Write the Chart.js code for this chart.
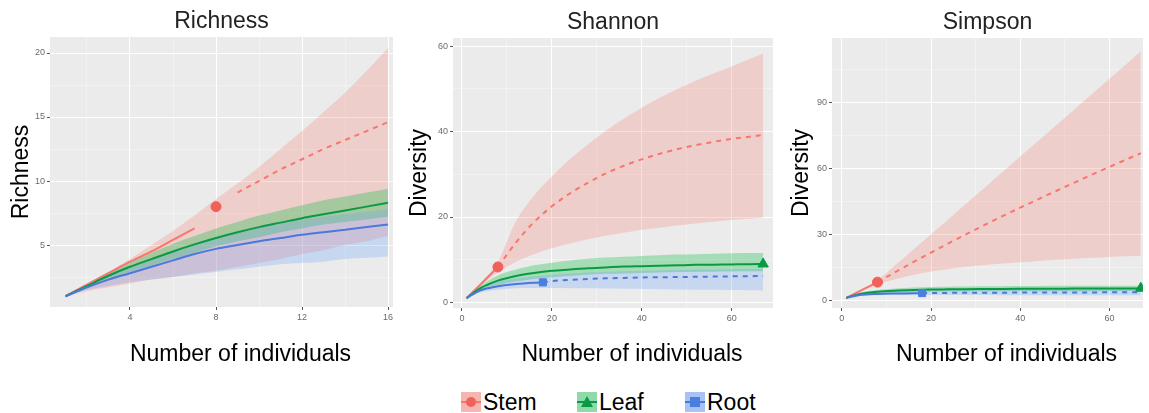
<!DOCTYPE html>
<html>
<head>
<meta charset="utf-8">
<script src="https://cdn.jsdelivr.net/npm/chart.js@4.4.0/dist/chart.umd.min.js"></script>
<style>
  html, body { margin: 0; padding: 0; background: #fff; width: 1149px; height: 413px; overflow: hidden; }
  body { position: relative; font-family: 'Liberation Sans', Arial, sans-serif; }
  canvas { position: absolute; top: 0; }
  #c1 { left: 0; }
  #c2 { left: 400px; }
  #c3 { left: 780px; }
  .leg { position: absolute; top: 391px; height: 22px; display: flex; align-items: center; font-size: 23px; line-height: 22px; color: #000; }
  .key { width: 20px; height: 20px; position: relative; margin-right: 2px; flex: none; }
  .key .ln { position: absolute; left: 0; right: 0; top: 9px; height: 2px; }
  .key .mk { position: absolute; }
</style>
</head>
<body>
<canvas id="c1" width="400" height="380"></canvas>
<canvas id="c2" width="380" height="380"></canvas>
<canvas id="c3" width="370" height="380"></canvas>

<div class="leg" style="left:461px">
  <span class="key" style="background:#F5B5B0"><span class="ln" style="background:#F8766D"></span><span class="mk" style="left:5px;top:5px;width:10px;height:10px;border-radius:50%;background:#F0615A"></span></span>Stem
</div>
<div class="leg" style="left:577px">
  <span class="key" style="background:#8FDAA8"><span class="ln" style="background:#0A9A45"></span><span class="mk" style="left:4px;top:4px;width:0;height:0;border-left:6px solid transparent;border-right:6px solid transparent;border-bottom:11px solid #0A9A45"></span></span>Leaf
</div>
<div class="leg" style="left:685px">
  <span class="key" style="background:#A8C3F3"><span class="ln" style="background:#4C78D8"></span><span class="mk" style="left:5px;top:5px;width:10px;height:10px;background:#4A7EE0"></span></span>Root
</div>

<script>
// ---- Richness panel (x = 1..16) ----
const richX = [1, 2, 3, 4, 5, 6, 7, 8, 9, 10, 11, 12, 13, 14, 15, 16];
const richStemRareX = [1, 2, 3, 4, 5, 6, 7];
const richStemRareY = [1, 1.9, 2.8, 3.7, 4.5, 5.4, 6.3];
const richStemExtX = [9, 10, 11, 12, 13, 14, 15, 16];
const richStemExtY = [9.1, 10.0, 10.9, 11.7, 12.5, 13.2, 13.9, 14.6];
const richStemObs = [8, 8];
const richStemHi = [1, 1.9, 2.9, 3.9, 5.0, 6.1, 7.3, 8.6, 9.8, 11.1, 12.5, 13.9, 15.4, 16.9, 18.6, 20.4];
const richStemLo = [1, 1.4, 1.7, 2.0, 2.3, 2.5, 2.8, 3.0, 3.3, 3.6, 3.9, 4.3, 4.6, 5.0, 5.3, 5.7];
const richLeafY = [1, 1.8, 2.6, 3.3, 3.9, 4.5, 5.05, 5.55, 6.0, 6.4, 6.75, 7.1, 7.4, 7.7, 8.0, 8.3];
const richLeafHi = [1, 2.0, 2.9, 3.7, 4.4, 5.1, 5.7, 6.3, 6.8, 7.3, 7.7, 8.1, 8.5, 8.8, 9.1, 9.4];
const richLeafLo = [1, 1.6, 2.3, 2.9, 3.4, 3.9, 4.4, 4.9, 5.3, 5.6, 6.0, 6.3, 6.6, 6.8, 7.0, 7.2];
const richRootY = [1, 1.7, 2.3, 2.8, 3.3, 3.8, 4.3, 4.7, 5.0, 5.3, 5.55, 5.8, 6.0, 6.2, 6.4, 6.6];
const richRootHi = [1, 1.9, 2.7, 3.3, 3.9, 4.5, 5.1, 5.6, 6.0, 6.4, 6.7, 7.0, 7.2, 7.4, 7.6, 7.8];
const richRootLo = [1, 1.5, 1.8, 2.1, 2.3, 2.5, 2.7, 2.9, 3.1, 3.3, 3.5, 3.6, 3.7, 3.9, 4.0, 4.1];

// ---- sample sizes shared by Shannon and Simpson ----
const sampleX = [1, 4, 8, 12, 16, 20, 24, 28, 32, 36, 40, 44, 48, 52, 56, 60, 64, 67];
const stemRareX = [1, 4, 8];
const stemExtX = [8, 12, 16, 20, 24, 28, 32, 36, 40, 44, 48, 52, 56, 60, 64, 67];
const rootRareX = [1, 4, 8, 12, 16, 18];
const rootExtX = [18, 20, 24, 28, 32, 36, 40, 44, 48, 52, 56, 60, 64, 67];
const rootBandX = [1, 4, 8, 12, 16, 18, 20, 24, 28, 32, 36, 40, 44, 48, 52, 56, 60, 64, 67];

// ---- Shannon panel ----
const shanStemRareY = [1, 4.1, 8.3];
const shanStemExtY = [8.3, 14, 18.8, 22.5, 25.5, 28, 30.2, 32, 33.5, 34.8, 35.9, 36.8, 37.6, 38.3, 38.8, 39.2];
const shanStemHi = [1, 4.3, 9.5, 19, 25, 29.5, 33.5, 37, 40.2, 43, 45.6, 47.9, 50, 51.9, 53.6, 55.2, 57, 58.2];
const shanStemLo = [1, 3.8, 7, 9.5, 11.3, 12.7, 13.8, 14.8, 15.6, 16.3, 17, 17.5, 18, 18.5, 18.9, 19.3, 19.6, 19.8];
const shanLeafY = [1, 3.3, 5.1, 6.2, 6.9, 7.4, 7.7, 8.0, 8.2, 8.4, 8.5, 8.6, 8.7, 8.8, 8.85, 8.9, 8.95, 9.0];
const shanLeafHi = [1, 3.8, 6.3, 7.7, 8.7, 9.3, 9.8, 10.2, 10.5, 10.7, 10.9, 11.05, 11.2, 11.3, 11.4, 11.5, 11.55, 11.6];
const shanLeafLo = [1, 2.9, 4.1, 4.9, 5.5, 5.9, 6.2, 6.5, 6.7, 6.8, 6.9, 7.0, 7.1, 7.15, 7.2, 7.25, 7.3, 7.3];
const shanRootRareY = [1, 2.8, 3.8, 4.3, 4.6, 4.7];
const shanRootExtY = [4.7, 5.0, 5.3, 5.5, 5.65, 5.75, 5.85, 5.9, 5.95, 6.0, 6.05, 6.1, 6.15, 6.2];
const shanRootHi = [1, 3.3, 4.8, 5.6, 6.1, 6.3, 6.5, 6.8, 7.0, 7.2, 7.3, 7.4, 7.5, 7.6, 7.65, 7.7, 7.75, 7.8, 7.8];
const shanRootLo = [1, 2.3, 3.0, 3.3, 3.4, 3.4, 3.4, 3.35, 3.3, 3.25, 3.2, 3.15, 3.1, 3.05, 3.0, 2.95, 2.9, 2.85, 2.8];
const shanObs = { stem: [8, 8.3], leaf: [67, 9.0], root: [18, 4.7] };

// ---- Simpson panel ----
const simpStemRareY = [1, 4.1, 8.2];
const simpStemExtY = [8.2, 12.8, 17.3, 21.7, 26, 30.2, 34.3, 38.3, 42.2, 46, 49.8, 53.5, 57.2, 60.8, 64.4, 67];
const simpStemHi = [1, 4.3, 9, 16, 23, 30, 37.1, 44.2, 51.3, 58.4, 65.5, 72.6, 79.7, 86.8, 93.9, 101, 108.1, 113.5];
const simpStemLo = [1, 3.8, 7, 9.5, 11.5, 13, 14.2, 15.2, 16, 16.7, 17.3, 17.9, 18.4, 18.9, 19.3, 19.7, 20, 20.2];
const simpLeafY = [1, 2.8, 3.8, 4.3, 4.6, 4.8, 4.9, 5.0, 5.05, 5.1, 5.15, 5.2, 5.2, 5.25, 5.25, 5.3, 5.3, 5.3];
const simpLeafHi = [1, 3.3, 4.6, 5.3, 5.7, 6.0, 6.1, 6.2, 6.3, 6.35, 6.4, 6.45, 6.5, 6.5, 6.55, 6.6, 6.6, 6.6];
const simpLeafLo = [1, 2.4, 3.1, 3.5, 3.7, 3.8, 3.9, 3.95, 4.0, 4.0, 4.05, 4.1, 4.1, 4.1, 4.1, 4.15, 4.15, 4.2];
const simpRootRareY = [1, 2.3, 2.8, 3.0, 3.1, 3.2];
const simpRootExtY = [3.2, 3.25, 3.3, 3.35, 3.4, 3.4, 3.45, 3.45, 3.5, 3.5, 3.5, 3.55, 3.55, 3.55];
const simpRootHi = [1, 2.7, 3.5, 3.9, 4.1, 4.2, 4.3, 4.4, 4.5, 4.55, 4.6, 4.6, 4.65, 4.65, 4.7, 4.7, 4.7, 4.75, 4.75];
const simpRootLo = [1, 1.9, 2.2, 2.3, 2.35, 2.35, 2.35, 2.3, 2.3, 2.3, 2.25, 2.25, 2.25, 2.2, 2.2, 2.2, 2.2, 2.2, 2.2];
const simpObs = { stem: [8, 8.2], leaf: [67, 5.4], root: [18, 3.2] };

const FONT = "'Liberation Sans', Arial, sans-serif";
const RED = '#F8766D', GREEN = '#0A9A45', BLUE = '#4C78D8';
const RED_FILL = 'rgba(248,118,109,0.25)';
const GREEN_FILL = 'rgba(0,186,56,0.3)';
const BLUE_FILL = 'rgba(97,156,255,0.25)';

const pts = (xs, ys) => xs.map((x, i) => ({ x: x, y: ys[i] }));

// lower edge + upper edge filled down to it
function ribbon(xs, lo, hi, fill, order) {
  return [
    { data: pts(xs, lo), borderColor: 'transparent', borderWidth: 0, pointRadius: 0, fill: false, order: order, cubicInterpolationMode: 'monotone' },
    { data: pts(xs, hi), borderColor: 'transparent', borderWidth: 0, pointRadius: 0, fill: '-1', backgroundColor: fill, order: order, cubicInterpolationMode: 'monotone' }
  ];
}
function curve(xs, ys, color, dashed, order) {
  return { data: pts(xs, ys), borderColor: color, borderWidth: 2, borderDash: dashed ? [5, 5] : [],
    pointRadius: 0, fill: false, order: order, cubicInterpolationMode: 'monotone' };
}
function marker(p, color, style, size) {
  return { data: [{ x: p[0], y: p[1] }], showLine: false, pointStyle: style, pointRadius: size,
    backgroundColor: color, borderColor: color, borderWidth: 1, order: 0 };
}

// grey panel like ggplot
const panelBg = {
  id: 'panelBg',
  beforeDraw(chart) {
    const { ctx, chartArea: a } = chart;
    ctx.save();
    ctx.fillStyle = '#EBEBEB';
    ctx.fillRect(a.left, a.top, a.right - a.left, a.bottom - a.top);
    ctx.restore();
  }
};
// x axis title, sits a bit right of the panel centre in the picture
const xTitle = {
  id: 'xTitle',
  afterDraw(chart, args, opts) {
    const { ctx, chartArea: a } = chart;
    ctx.save();
    ctx.font = '23px ' + FONT;
    ctx.fillStyle = '#000';
    ctx.textAlign = 'center';
    ctx.textBaseline = 'middle';
    ctx.fillText(opts.text, (a.left + a.right) / 2 + opts.dx, opts.y);
    ctx.restore();
  }
};

function axis(min, max, step, major, fit) {
  const isMajor = c => c.tick && Math.abs(c.tick.value % major) < 1e-9;
  return {
    type: 'linear', min: min, max: max,
    afterFit: fit,
    border: { display: false },
    ticks: {
      stepSize: step, includeBounds: false, autoSkip: false, maxRotation: 0, padding: 2,
      color: '#6b6b6b', font: { family: FONT, size: 9 },
      callback: v => (Math.abs(v % major) < 1e-9 ? v : '')
    },
    grid: {
      color: c => isMajor(c) ? '#ffffff' : 'rgba(255,255,255,0.6)',
      lineWidth: c => isMajor(c) ? 1 : 0.6,
      tickLength: 3,
      tickColor: c => isMajor(c) ? '#555555' : 'rgba(0,0,0,0)'
    }
  };
}

function makeChart(id, p, datasets) {
  const x = axis(p.xMin, p.xMax, p.xStep, p.xMajor, s => { s.height = p.xHeight; });
  const y = axis(p.yMin, p.yMax, p.yStep, p.yMajor, s => { s.width = p.yWidth; });
  y.title = { display: true, text: p.yTitle, color: '#000', font: { family: FONT, size: 23 }, padding: { top: p.yTitlePad, bottom: 0 } };
  return new Chart(document.getElementById(id), {
    type: 'line',
    data: { datasets: datasets },
    options: {
      responsive: false, animation: false, devicePixelRatio: 1,
      layout: { padding: { left: 0, right: p.padRight, top: 0, bottom: 0 } },
      plugins: {
        legend: { display: false },
        tooltip: { enabled: false },
        title: { display: true, text: p.title, fullSize: false, color: '#222',
          font: { family: FONT, size: 23, weight: 'normal' }, padding: { top: p.titleTop, bottom: p.titleBottom } },
        xTitle: { text: 'Number of individuals', dx: 19, y: 355 }
      },
      scales: { x: x, y: y }
    },
    plugins: [panelBg, xTitle]
  });
}

// Richness
makeChart('c1', {
  title: 'Richness', titleTop: 8, titleBottom: 1.4, yTitle: 'Richness', yTitlePad: 8,
  xMin: 0.28, xMax: 16.23, xStep: 2, xMajor: 4, yMin: 0.16, yMax: 21.25, yStep: 2.5, yMajor: 5,
  xHeight: 73, yWidth: 50, padRight: 7
}, [
  ...ribbon(richX, richStemLo, richStemHi, RED_FILL, 30),
  ...ribbon(richX, richLeafLo, richLeafHi, GREEN_FILL, 20),
  ...ribbon(richX, richRootLo, richRootHi, BLUE_FILL, 10),
  curve(richStemRareX, richStemRareY, RED, false, 6),
  curve(richStemExtX, richStemExtY, RED, true, 6),
  curve(richX, richLeafY, GREEN, false, 5),
  curve(richX, richRootY, BLUE, false, 4),
  marker(richStemObs, '#F0615A', 'circle', 5)
]);

// Shannon
makeChart('c2', {
  title: 'Shannon', titleTop: 9, titleBottom: 1.4, yTitle: 'Diversity', yTitlePad: 6,
  xMin: -2, xMax: 69.2, xStep: 10, xMajor: 20, yMin: -1.3, yMax: 61.9, yStep: 10, yMajor: 20,
  xHeight: 72, yWidth: 53, padRight: 5
}, [
  ...ribbon(sampleX, shanStemLo, shanStemHi, RED_FILL, 30),
  ...ribbon(sampleX, shanLeafLo, shanLeafHi, GREEN_FILL, 20),
  ...ribbon(rootBandX, shanRootLo, shanRootHi, BLUE_FILL, 10),
  curve(stemRareX, shanStemRareY, RED, false, 6),
  curve(stemExtX, shanStemExtY, RED, true, 6),
  curve(sampleX, shanLeafY, GREEN, false, 5),
  curve(rootRareX, shanRootRareY, BLUE, false, 4),
  curve(rootExtX, shanRootExtY, BLUE, true, 4),
  marker(shanObs.stem, '#F0615A', 'circle', 5),
  marker(shanObs.leaf, GREEN, 'triangle', 6),
  marker(shanObs.root, '#4A7EE0', 'rect', 5)
]);

// Simpson
makeChart('c3', {
  title: 'Simpson', titleTop: 9, titleBottom: 1.4, yTitle: 'Diversity', yTitlePad: 8,
  xMin: -2.2, xMax: 67.5, xStep: 10, xMajor: 20, yMin: -3.6, yMax: 119.6, yStep: 15, yMajor: 30,
  xHeight: 72, yWidth: 52, padRight: 3
}, [
  ...ribbon(sampleX, simpStemLo, simpStemHi, RED_FILL, 30),
  ...ribbon(sampleX, simpLeafLo, simpLeafHi, GREEN_FILL, 20),
  ...ribbon(rootBandX, simpRootLo, simpRootHi, BLUE_FILL, 10),
  curve(stemRareX, simpStemRareY, RED, false, 6),
  curve(stemExtX, simpStemExtY, RED, true, 6),
  curve(sampleX, simpLeafY, GREEN, false, 5),
  curve(rootRareX, simpRootRareY, BLUE, false, 4),
  curve(rootExtX, simpRootExtY, BLUE, true, 4),
  marker(simpObs.stem, '#F0615A', 'circle', 5),
  marker(simpObs.leaf, GREEN, 'triangle', 6),
  marker(simpObs.root, '#4A7EE0', 'rect', 5)
]);
</script>
</body>
</html>
